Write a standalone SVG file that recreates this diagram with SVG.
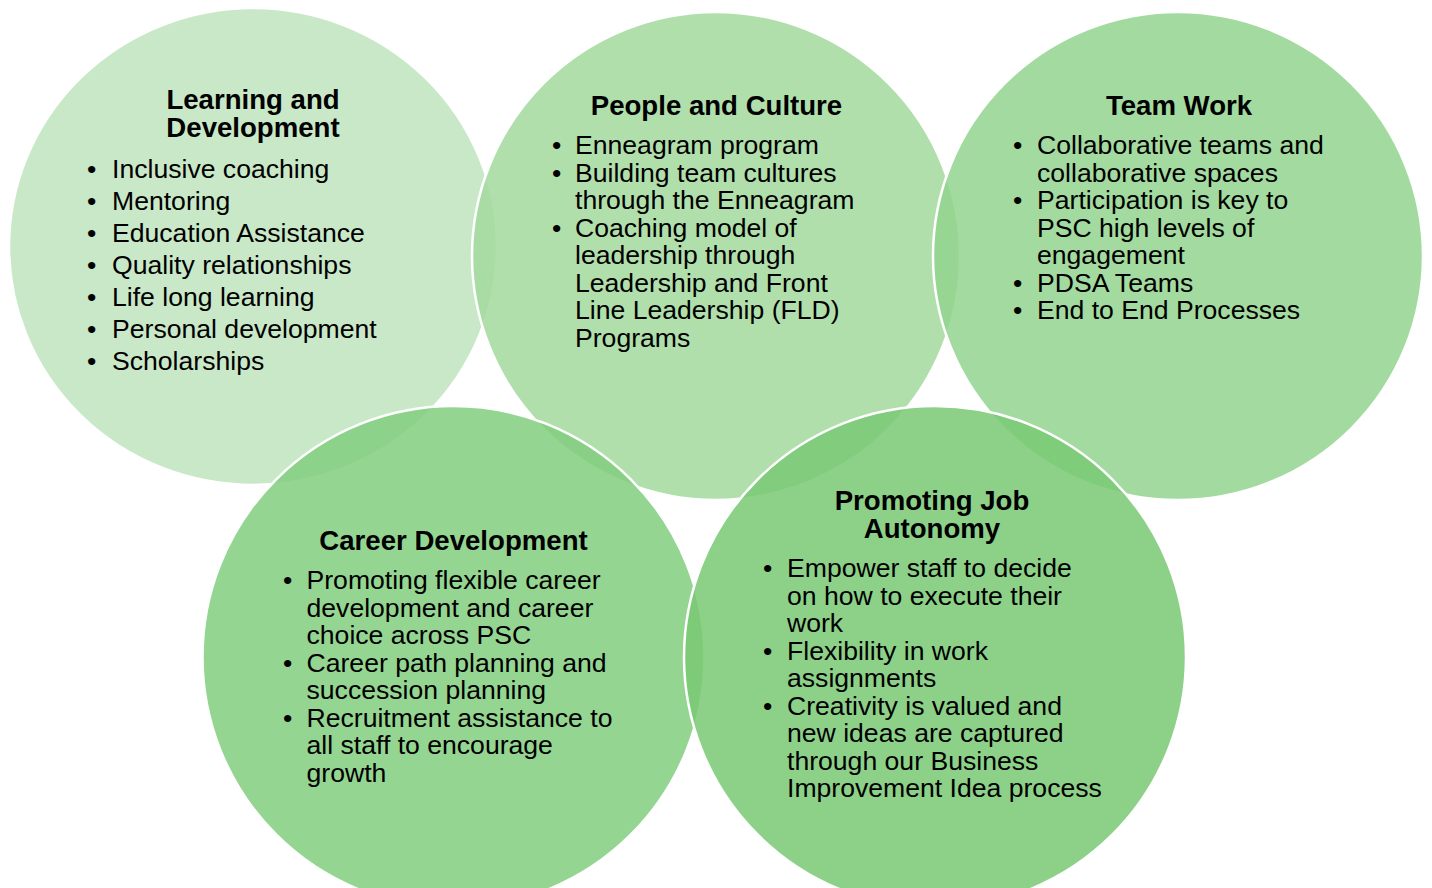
<svg xmlns="http://www.w3.org/2000/svg" width="1432" height="888" viewBox="0 0 1432 888">
<style>
.c{stroke:#FFFFFF;stroke-width:2.5;fill-opacity:0.85}
.t{font-family:"Liberation Sans",Arial,sans-serif;font-size:27.6px;font-weight:bold;fill:#000;text-anchor:middle}
.b{font-family:"Liberation Sans",Arial,sans-serif;font-size:26.6px;fill:#000}
</style>
<rect width="1432" height="888" fill="#FFFFFF"/>
<g id="connectors"></g>
<g id="node-learning">
<ellipse class="c" cx="253" cy="246.5" rx="244" ry="238.5" fill="#BFE4BE"/>
<text class="t" x="253" y="109">Learning and</text>
<text class="t" x="253" y="137">Development</text>
<text class="b"><tspan x="87" y="178">•</tspan><tspan x="112" y="178">Inclusive coaching</tspan><tspan x="87" y="210">•</tspan><tspan x="112" y="210">Mentoring</tspan><tspan x="87" y="242">•</tspan><tspan x="112" y="242">Education Assistance</tspan><tspan x="87" y="274">•</tspan><tspan x="112" y="274">Quality relationships</tspan><tspan x="87" y="306">•</tspan><tspan x="112" y="306">Life long learning</tspan><tspan x="87" y="338">•</tspan><tspan x="112" y="338">Personal development</tspan><tspan x="87" y="370">•</tspan><tspan x="112" y="370">Scholarships</tspan></text>
</g>
<g id="node-people">
<ellipse class="c" cx="716" cy="256" rx="244" ry="244" fill="#A2D99D"/>
<text class="t" x="716.5" y="115">People and Culture</text>
<text class="b"><tspan x="552" y="154">•</tspan><tspan x="575" y="154">Enneagram program</tspan><tspan x="552" y="181.5">•</tspan><tspan x="575" y="181.5">Building team cultures</tspan><tspan x="575" y="209">through the Enneagram</tspan><tspan x="552" y="236.5">•</tspan><tspan x="575" y="236.5">Coaching model of</tspan><tspan x="575" y="264">leadership through</tspan><tspan x="575" y="291.5">Leadership and Front</tspan><tspan x="575" y="319">Line Leadership (FLD)</tspan><tspan x="575" y="346.5">Programs</tspan></text>
</g>
<g id="node-teamwork">
<ellipse class="c" cx="1178" cy="256" rx="245" ry="244" fill="#93D38E"/>
<text class="t" x="1179" y="115">Team Work</text>
<text class="b"><tspan x="1013" y="154">•</tspan><tspan x="1037" y="154">Collaborative teams and</tspan><tspan x="1037" y="181.5">collaborative spaces</tspan><tspan x="1013" y="209">•</tspan><tspan x="1037" y="209">Participation is key to</tspan><tspan x="1037" y="236.5">PSC high levels of</tspan><tspan x="1037" y="264">engagement</tspan><tspan x="1013" y="291.5">•</tspan><tspan x="1037" y="291.5">PDSA Teams</tspan><tspan x="1013" y="319">•</tspan><tspan x="1037" y="319">End to End Processes</tspan></text>
</g>
<g id="node-career">
<circle class="c" cx="453.5" cy="657" r="251" fill="#83CE7F"/>
<text class="t" x="453.5" y="549.5">Career Development</text>
<text class="b"><tspan x="283" y="589">•</tspan><tspan x="306.5" y="589">Promoting flexible career</tspan><tspan x="306.5" y="616.5">development and career</tspan><tspan x="306.5" y="644">choice across PSC</tspan><tspan x="283" y="671.5">•</tspan><tspan x="306.5" y="671.5">Career path planning and</tspan><tspan x="306.5" y="699">succession planning</tspan><tspan x="283" y="726.5">•</tspan><tspan x="306.5" y="726.5">Recruitment assistance to</tspan><tspan x="306.5" y="754">all staff to encourage</tspan><tspan x="306.5" y="781.5">growth</tspan></text>
</g>
<g id="node-autonomy">
<circle class="c" cx="935" cy="657" r="251" fill="#79C974"/>
<text class="t" x="932" y="509.5">Promoting Job</text>
<text class="t" x="932" y="538">Autonomy</text>
<text class="b"><tspan x="763" y="577">•</tspan><tspan x="787" y="577">Empower staff to decide</tspan><tspan x="787" y="604.5">on how to execute their</tspan><tspan x="787" y="632">work</tspan><tspan x="763" y="659.5">•</tspan><tspan x="787" y="659.5">Flexibility in work</tspan><tspan x="787" y="687">assignments</tspan><tspan x="763" y="714.5">•</tspan><tspan x="787" y="714.5">Creativity is valued and</tspan><tspan x="787" y="742">new ideas are captured</tspan><tspan x="787" y="769.5">through our Business</tspan><tspan x="787" y="797">Improvement Idea process</tspan></text>
</g>
</svg>
